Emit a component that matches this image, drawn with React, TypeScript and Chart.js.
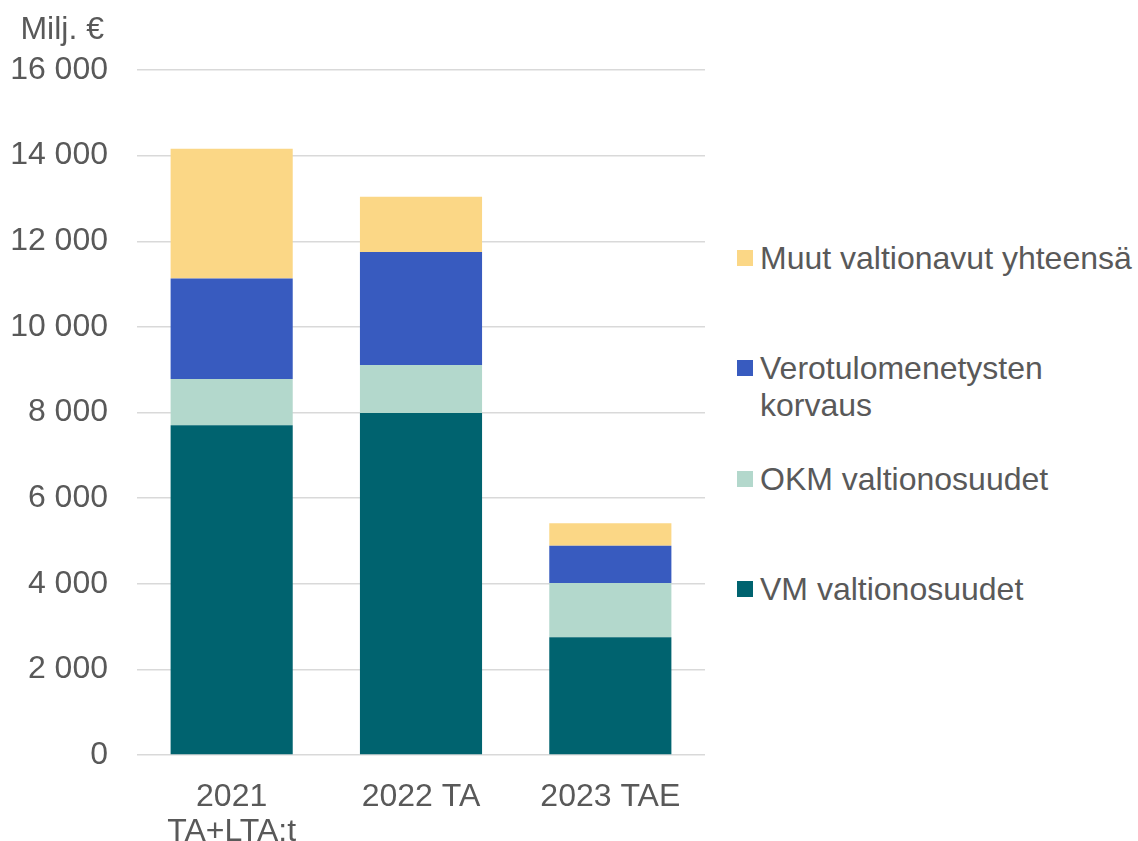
import React, { useEffect, useRef } from "react";
import { Chart, registerables } from "chart.js";

Chart.register(...registerables);

const categories: (string | string[])[] = [["2021", "TA+LTA:t"], "2022 TA", "2023 TAE"];
const vmValtionosuudet = [7700, 7990, 2750];
const okmValtionosuudet = [1080, 1120, 1270];
const verotulomenetystenKorvaus = [2350, 2640, 865];
const muutValtionavut = [3030, 1290, 530];

const seriesNames = ["VM valtionosuudet", "OKM valtionosuudet", "Verotulomenetysten korvaus", "Muut valtionavut yhteensä"];
const seriesColors = ["#00636F", "#B3D8CC", "#385BBF", "#FBD786"];

const FONT = "'Liberation Sans', Arial, sans-serif";
const TEXT = "#595959";

export default function App() {
  const ref = useRef<HTMLCanvasElement | null>(null);

  useEffect(() => {
    document.body.style.margin = "0";
    document.body.style.overflow = "hidden";
    const canvas = ref.current;
    if (!canvas) return;
    const values = [vmValtionosuudet, okmValtionosuudet, verotulomenetystenKorvaus, muutValtionavut];
    const chart = new Chart(canvas, {
      type: "bar",
      data: {
        labels: categories,
        datasets: values.map((d, i) => ({
          label: seriesNames[i],
          data: d,
          backgroundColor: seriesColors[i],
          borderWidth: 0,
          categoryPercentage: 1,
          barPercentage: 0.645,
        })),
      },
      options: {
        animation: false,
        responsive: false,
        maintainAspectRatio: false,
        layout: { padding: { top: 70, right: 15, left: 0, bottom: 0 } },
        plugins: { legend: { display: false }, tooltip: { enabled: false } },
        scales: {
          x: {
            stacked: true,
            grid: { display: false },
            border: { display: false },
            ticks: {
              color: TEXT,
              font: { family: FONT, size: 32, lineHeight: 1.08 },
              padding: 17,
              maxRotation: 0,
              autoSkip: false,
            },
            afterFit: (s: any) => {
              s.height = 86;
            },
          },
          y: {
            stacked: true,
            min: 0,
            max: 16000,
            grid: { color: "#D9D9D9", lineWidth: 1.5, drawTicks: false },
            border: { display: false },
            ticks: {
              stepSize: 2000,
              color: TEXT,
              padding: 29,
              font: { family: FONT, size: 32 },
              callback: (v: any) => {
                const n = Number(v);
                return n >= 1000 ? Math.floor(n / 1000) + " " + String(n % 1000).padStart(3, "0") : String(n);
              },
            },
            afterFit: (s: any) => {
              s.width = 137;
            },
          },
        },
      },
    });
    return () => chart.destroy();
  }, []);

  const legendItems = [
    { name: ["Muut valtionavut yhteensä"], color: seriesColors[3], top: 258 },
    { name: ["Verotulomenetysten", "korvaus"], color: seriesColors[2], top: 368 },
    { name: ["OKM valtionosuudet"], color: seriesColors[1], top: 479 },
    { name: ["VM valtionosuudet"], color: seriesColors[0], top: 589 },
  ];

  return (
    <div style={{ position: "relative", width: 1138, height: 841, fontFamily: FONT, color: TEXT }}>
      <canvas ref={ref} width={720} height={841} style={{ position: "absolute", left: 0, top: 0 }} />
      <div
        style={{
          position: "absolute",
          left: 0,
          width: 104,
          top: 28 - 18,
          height: 36,
          lineHeight: "36px",
          fontSize: 32,
          textAlign: "right",
          whiteSpace: "nowrap",
        }}
      >
        Milj. €
      </div>
      {legendItems.map((it, i) => (
        <div key={i} style={{ position: "absolute", left: 737, top: it.top - 18.5 }}>
          <div
            style={{
              position: "absolute",
              left: 0,
              top: 18.5 - 8,
              width: 16,
              height: 16,
              background: it.color,
            }}
          />
          <div style={{ position: "absolute", left: 23, top: 0, fontSize: 32, lineHeight: "37px", whiteSpace: "nowrap" }}>
            {it.name.map((l, j) => (
              <div key={j}>{l}</div>
            ))}
          </div>
        </div>
      ))}
    </div>
  );
}
